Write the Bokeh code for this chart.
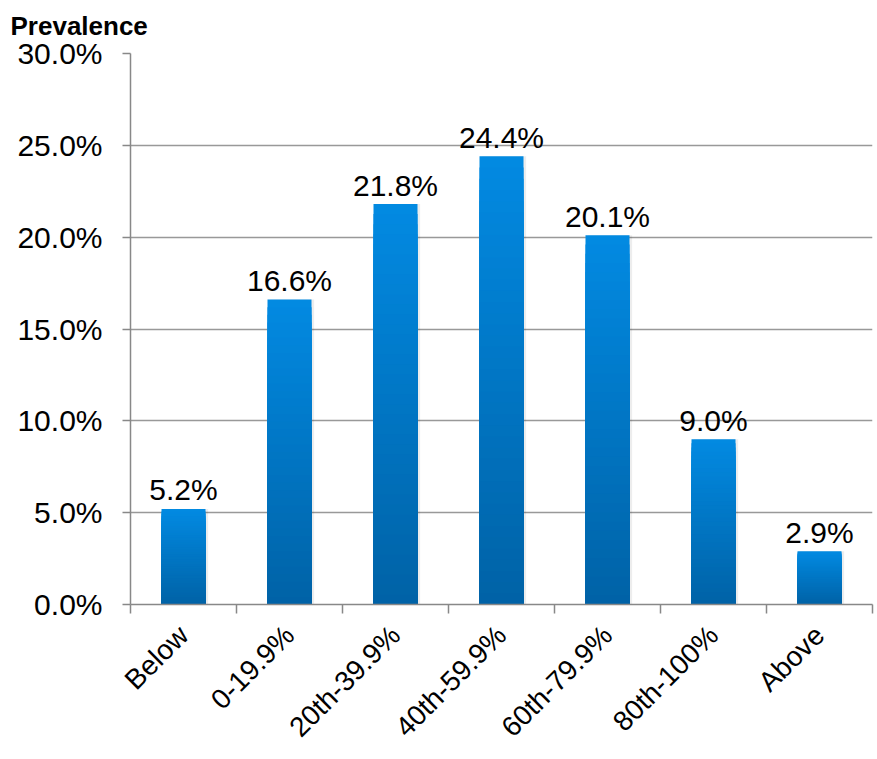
import math
from bokeh.plotting import figure
from bokeh.models import Range1d, FixedTicker, PrintfTickFormatter, ColumnDataSource, Title
from bokeh.transform import dodge
from bokeh.core.properties import value
from bokeh.embed import file_html
from bokeh.resources import INLINE

categories = ["Below", "0-19.9%", "20th-39.9%", "40th-59.9%", "60th-79.9%", "80th-100%", "Above"]
prevalence = [5.2, 16.6, 21.8, 24.4, 20.1, 9.0, 2.9]
y_ticks = [0, 5, 10, 15, 20, 25, 30]

FONT = "Liberation Sans"
TOP_RGB = (0x02, 0x8A, 0xE2)
BOT_RGB = (0x00, 0x62, 0xA6)
N_SLICES = 40
BAR_W = 0.415

p = figure(width=877, height=759, x_range=Range1d(0, len(categories)), y_range=Range1d(0, 30),
           output_backend="svg", toolbar_location=None,
           min_border_left=130, min_border_right=5, min_border_top=53, min_border_bottom=155)
p.outline_line_color = None
p.background_fill_color = "white"

centers = [i + 0.5 for i in range(len(categories))]

# soft shadow on the right of the bars
p.vbar(x=dodge("x", 0.025, range=p.x_range), top="top", width=BAR_W, bottom=0,
       source=ColumnDataSource(dict(x=centers, top=prevalence)),
       fill_color="#000000", fill_alpha=0.07, line_color=None)

# gradient bars: overlapping columns from the base, tallest (lightest) drawn first
xs, tops, cols = [], [], []
for k in reversed(range(N_SLICES)):
    t = (k + 0.5) / N_SLICES
    r = round(BOT_RGB[0] + (TOP_RGB[0] - BOT_RGB[0]) * t)
    g = round(BOT_RGB[1] + (TOP_RGB[1] - BOT_RGB[1]) * t)
    b = round(BOT_RGB[2] + (TOP_RGB[2] - BOT_RGB[2]) * t)
    for c, v in zip(centers, prevalence):
        xs.append(c)
        tops.append(v * (k + 1) / N_SLICES)
        cols.append("#%02x%02x%02x" % (r, g, b))
p.vbar(x="x", bottom=0, top="top", width=BAR_W, fill_color="color", line_color=None,
       source=ColumnDataSource(dict(x=xs, top=tops, color=cols)))

# data labels
p.text(x=centers, y=prevalence, text=["%.1f%%" % v for v in prevalence],
       text_align="center", text_baseline="alphabetic", y_offset=-19,
       text_font=value(FONT), text_font_size="30px", text_color="black")

# y axis
yax = p.yaxis[0]
yax.ticker = FixedTicker(ticks=y_ticks)
yax.formatter = PrintfTickFormatter(format="%.1f%%")
yax.axis_line_color = "#888888"
yax.axis_line_width = 1.5
yax.major_tick_line_color = "#888888"
yax.major_tick_line_width = 1.5
yax.major_tick_out = 8
yax.major_tick_in = 0
yax.minor_tick_line_color = None
yax.major_label_text_font = FONT
yax.major_label_text_font_size = "30px"
yax.major_label_text_color = "black"
yax.major_label_standoff = 20

# x axis
xax = p.xaxis[0]
xax.ticker = FixedTicker(ticks=centers, minor_ticks=list(range(len(categories) + 1)))
xax.major_label_overrides = {c: lab for c, lab in zip(centers, categories)}
xax.axis_line_color = "#888888"
xax.axis_line_width = 1.5
xax.major_tick_line_color = None
xax.minor_tick_line_color = "#888888"
xax.minor_tick_line_width = 1.5
xax.minor_tick_out = 9
xax.minor_tick_in = 0
xax.major_label_orientation = math.pi / 4
xax.major_label_text_font = FONT
xax.major_label_text_font_size = "28px"
xax.major_label_text_color = "black"
xax.major_label_standoff = 17

p.xgrid.grid_line_color = None
p.ygrid.ticker = FixedTicker(ticks=y_ticks)
p.ygrid.grid_line_color = "#999999"
p.ygrid.grid_line_width = 1.5

t = Title(text="Prevalence", align="left", offset=-120, standoff=21, vertical_align="top",
          text_font=FONT, text_font_size="26px", text_font_style="bold", text_color="black")
p.add_layout(t, "above")

open("out.html", "w").write(file_html(p, INLINE))
